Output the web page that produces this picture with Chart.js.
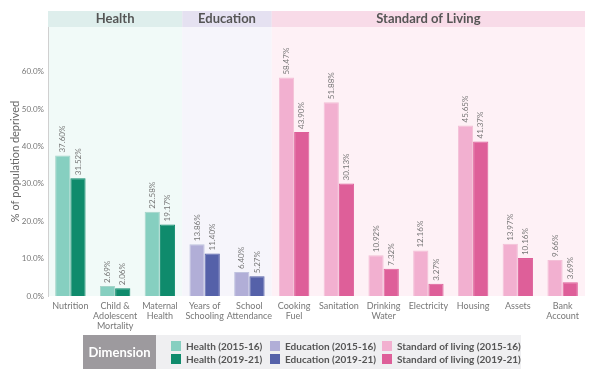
<!DOCTYPE html>
<html>
<head>
<meta charset="utf-8">
<script src="https://cdn.jsdelivr.net/npm/chart.js@4.4.1/dist/chart.umd.min.js"></script>
<style>
  body { margin: 0; background: #fff; font-family: Lato, "Open Sans", sans-serif; }
  #wrap { position: relative; width: 602px; height: 371px; }
  #legend { position: absolute; left: 83px; top: 335px; width: 438px; height: 34px; background: #efeff1; }
  #legend .dim { position: absolute; left: 0; top: 0; width: 73px; height: 34px; background: #9d9a9e;
    color: #fff; font-weight: bold; font-size: 13px; line-height: 34px; text-align: center; }
  #legend .item { position: absolute; font-size: 10px; font-weight: bold; color: #555; line-height: 12px; white-space: nowrap; }
  #legend .sw { display: inline-block; width: 10px; height: 10px; vertical-align: -1px; margin-right: 5px; }
</style>
</head>
<body>
<div id="wrap">
  <canvas id="myChart" width="602" height="371"></canvas>
  <div id="legend"><div class="dim">Dimension</div></div>
</div>

<script>
// indicators, grouped by dimension
var categories = [
  'Nutrition', ['Child &', 'Adolescent', 'Mortality'], ['Maternal', 'Health'],
  ['Years of', 'Schooling'], ['School', 'Attendance'],
  ['Cooking', 'Fuel'], 'Sanitation', ['Drinking', 'Water'], 'Electricity', 'Housing', 'Assets', ['Bank', 'Account']
];
var dimensionOf = [0, 0, 0, 1, 1, 2, 2, 2, 2, 2, 2, 2];
var dimensions = ['Health', 'Education', 'Standard of Living'];
var legendNames = ['Health', 'Education', 'Standard of living'];

var values2015 = [37.60, 2.69, 22.58, 13.86, 6.40, 58.47, 51.88, 10.92, 12.16, 45.65, 13.97, 9.66];
var values2019 = [31.52, 2.06, 19.17, 11.40, 5.27, 43.90, 30.13, 7.32, 3.27, 41.37, 10.16, 3.69];

var lightColors = ['#86cfc0', '#b1aed7', '#f2b0d0'];
var darkColors  = ['#0f8b6c', '#5561a9', '#de5f99'];
var headerColors = ['#deeeec', '#e5e1f1', '#f8dbe8'];
var bandColors   = ['#f1faf8', '#f6f5fb', '#fef1f6'];

// background bands and the dimension header strip
var bands = {
  id: 'bands',
  beforeDraw: function(chart) {
    var ctx = chart.ctx, a = chart.chartArea;
    var w = (a.right - a.left) / categories.length;
    var start = 0;
    for (var d = 0; d < dimensions.length; d++) {
      var n = dimensionOf.filter(function(v) { return v === d; }).length;
      var x0 = a.left + start * w, x1 = a.left + (start + n) * w;
      ctx.fillStyle = bandColors[d];
      ctx.fillRect(x0, a.top, x1 - x0, a.bottom - a.top);
      ctx.fillStyle = headerColors[d];
      ctx.fillRect(x0, a.top - 16, x1 - x0, 16);
      ctx.fillStyle = '#555';
      ctx.font = 'bold 13px Lato, sans-serif';
      ctx.textAlign = 'center';
      ctx.textBaseline = 'middle';
      ctx.fillText(dimensions[d], (x0 + x1) / 2, a.top - 8);
      start += n;
    }
  }
};

// rotated value labels on top of each bar
var barLabels = {
  id: 'barLabels',
  afterDatasetsDraw: function(chart) {
    var ctx = chart.ctx;
    ctx.save();
    ctx.font = '8px Lato, sans-serif';
    ctx.fillStyle = '#777';
    ctx.textAlign = 'left';
    ctx.textBaseline = 'middle';
    chart.data.datasets.forEach(function(ds, i) {
      chart.getDatasetMeta(i).data.forEach(function(bar, j) {
        ctx.save();
        ctx.translate(bar.x, bar.y - 3);
        ctx.rotate(-Math.PI / 2);
        ctx.fillText(ds.data[j].toFixed(2) + '%', 0, 0);
        ctx.restore();
      });
    });
    ctx.restore();
  }
};

var ctx = document.getElementById('myChart').getContext('2d');
window.chart = new Chart(ctx, {
  type: 'bar',
  data: {
    labels: categories,
    datasets: [{
      label: '2015-16',
      data: values2015,
      backgroundColor: dimensionOf.map(function(d) { return lightColors[d]; }),
      borderColor: dimensionOf.map(function(d) { return darkColors[d] + '55'; }),
      borderWidth: 1,
      categoryPercentage: 0.68,
      barPercentage: 1.0
    }, {
      label: '2019-21',
      data: values2019,
      backgroundColor: dimensionOf.map(function(d) { return darkColors[d]; }),
      borderColor: dimensionOf.map(function(d) { return darkColors[d]; }),
      borderWidth: 1,
      categoryPercentage: 0.68,
      barPercentage: 1.0
    }]
  },
  options: {
    responsive: false,
    animation: false,
    layout: { padding: { top: 27, right: 17, left: 0, bottom: 0 } },
    plugins: { legend: { display: false }, tooltip: { enabled: false } },
    scales: {
      x: {
        grid: { display: false, drawTicks: false },
        border: { display: false },
        ticks: { color: '#777', font: { size: 9, family: 'Lato', lineHeight: 1.1 }, padding: 5, maxRotation: 0, autoSkip: false },
        afterFit: function(s) { s.height = 75; }
      },
      y: {
        min: 0,
        max: 72,
        grid: { display: false, drawTicks: false },
        border: { display: true, color: '#d0d0d0' },
        ticks: {
          stepSize: 10,
          padding: 4,
          color: '#777',
          font: { size: 8, family: 'Lato' },
          callback: function(v) { return v.toFixed(1) + '%'; }
        },
        afterBuildTicks: function(s) { s.ticks = s.ticks.filter(function(t) { return t.value <= 60; }); },
        title: { display: true, text: '% of population deprived', color: '#666', font: { size: 11, family: 'Lato' }, padding: { top: 9, bottom: 0 } },
        afterFit: function(s) { s.width = 48; }
      }
    }
  },
  plugins: [bands, barLabels]
});

// legend box below the chart
var legend = document.getElementById('legend');
var colX = [88, 187, 299];
for (var d = 0; d < 3; d++) {
  [[lightColors[d], ' (2015-16)', 5], [darkColors[d], ' (2019-21)', 18]].forEach(function(e) {
    var it = document.createElement('div');
    it.className = 'item';
    it.style.left = colX[d] + 'px';
    it.style.top = e[2] + 'px';
    it.innerHTML = '<span class="sw" style="background:' + e[0] + '"></span>' + legendNames[d] + e[1];
    legend.appendChild(it);
  });
}
</script>
</body>
</html>
